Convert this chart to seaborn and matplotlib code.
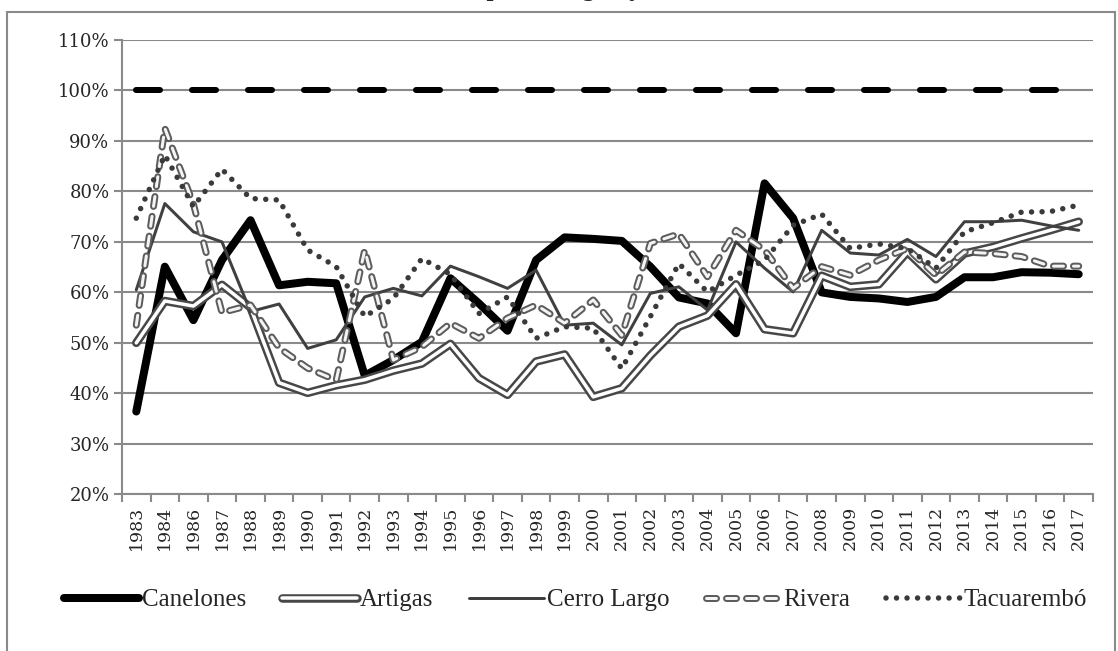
import numpy as np
import pandas as pd
import seaborn as sns
import matplotlib.pyplot as plt
from matplotlib.lines import Line2D
from matplotlib.patches import Rectangle
from matplotlib.ticker import PercentFormatter, FixedLocator

sns.set_style('white')
plt.rcParams['font.family'] = ['DejaVu Serif']
plt.rcParams['lines.scale_dashes'] = False

years = ['1983', '1984', '1986', '1987', '1988', '1989', '1990', '1991', '1992', '1993',
         '1994', '1995', '1996', '1997', '1998', '1999', '2000', '2001', '2002', '2003',
         '2004', '2005', '2006', '2007', '2008', '2009', '2010', '2011', '2012', '2013',
         '2014', '2015', '2016', '2017']

canelones = [36.4, 65.1, 54.5, 66.4, 74.3, 61.4, 62.1, 61.8, 43.5, 46.6, 50.2, 62.8, 57.8, 52.4,
             66.4, 70.9, 70.6, 70.2, 65.1, 59.0, 57.8, 51.9, 81.6, 74.7, 60.0, 59.1, 58.8, 58.1,
             59.1, 63.0, 63.0, 64.0, 63.9, 63.6]
artigas = [50.0, 58.3, 57.3, 61.5, 57.0, 42.1, 40.1, 41.6, 42.7, 44.5, 45.9, 49.8, 43.0, 39.7,
           46.3, 47.7, 39.3, 41.0, 47.5, 53.2, 55.4, 61.6, 52.7, 51.9, 63.3, 61.1, 61.6, 68.0,
           62.6, 67.7, 69.0, 70.7, 72.3, 74.0]
cerro_largo = [60.5, 77.6, 72.0, 70.0, 56.2, 57.7, 48.9, 50.6, 59.1, 60.8, 59.3, 65.2, 63.1, 60.8,
               64.4, 53.5, 53.9, 49.6, 59.8, 61.1, 56.5, 70.0, 64.8, 60.1, 72.3, 67.8, 67.4, 70.5,
               67.1, 74.0, 74.0, 74.3, 73.2, 72.3]
rivera = [53.5, 92.5, 77.5, 56.0, 57.5, 49.0, 45.0, 42.6, 68.4, 46.6, 49.2, 53.9, 50.9, 54.9,
          57.5, 53.9, 58.5, 51.5, 69.7, 71.6, 63.1, 72.3, 68.4, 60.8, 65.1, 63.4, 66.4, 68.7,
          63.4, 68.0, 67.7, 67.1, 65.2, 65.2]
tacuarembo = [74.7, 87.2, 77.0, 84.4, 78.6, 78.3, 68.4, 65.1, 55.2, 58.8, 66.7, 63.6, 55.8, 59.1,
              50.9, 53.2, 52.9, 44.9, 55.2, 65.7, 60.1, 63.4, 66.4, 73.3, 75.5, 68.7, 69.6, 68.7,
              64.8, 72.0, 73.8, 75.9, 76.0, 77.3]
reference = [100, 100, 100, 100, 100, 100, 100, 100, 100, 100, 100, 100, 100, 100, 100, 100, 100,
             100, 100, 100, 100, 100, 100, 100, 100, 100, 100, 100, 100, 100, 100, 100, 100, 100]

df = pd.DataFrame({'year': years, 'Canelones': canelones, 'Artigas': artigas,
                   'Cerro Largo': cerro_largo, 'Rivera': rivera, 'Tacuarembó': tacuarembo,
                   'ref': reference})
df['pos'] = np.arange(len(df))

px = 72 / 100  # pixel -> points

fig = plt.figure(figsize=(11.18, 6.51), dpi=100)
ax = fig.add_axes([122 / 1118, 1 - 494.3 / 651, (1093 - 122) / 1118, (494.3 - 40) / 651])

ax.yaxis.grid(True, color='#8a8a8a', lw=1.5)
ax.set_axisbelow(True)

# 100% reference
ref_style = dict(color='black', lw=6 * px, dash_capstyle='round',
                 linestyle=(0, (24 * px, 32 * px)))
sns.lineplot(data=df, x='pos', y='ref', ax=ax, legend=False, **ref_style)

can_style = dict(color='black', lw=8 * px, solid_capstyle='round')
sns.lineplot(data=df, x='pos', y='Canelones', ax=ax, legend=False, **can_style)

art_out = dict(color='#474747', lw=8.5 * px, solid_capstyle='round')
art_in = dict(color='white', lw=3.5 * px, solid_capstyle='round')
sns.lineplot(data=df, x='pos', y='Artigas', ax=ax, legend=False, **art_out)
sns.lineplot(data=df, x='pos', y='Artigas', ax=ax, legend=False, **art_in)

cl_style = dict(color='#404040', lw=3 * px, solid_capstyle='round')
sns.lineplot(data=df, x='pos', y='Cerro Largo', ax=ax, legend=False, **cl_style)

riv_dash = (0, (10 * px, 10 * px))
riv_out = dict(color='#5c5c5c', lw=7 * px, dash_capstyle='round', linestyle=riv_dash)
riv_in = dict(color='#f4f4f4', lw=3 * px, dash_capstyle='round', linestyle=riv_dash)
sns.lineplot(data=df, x='pos', y='Rivera', ax=ax, legend=False, **riv_out)
sns.lineplot(data=df, x='pos', y='Rivera', ax=ax, legend=False, **riv_in)

tac_style = dict(color='#3a3a3a', lw=5.5 * px, dash_capstyle='round',
                 linestyle=(0, (0.01, 10.5 * px)))
sns.lineplot(data=df, x='pos', y='Tacuarembó', ax=ax, legend=False, **tac_style)

ax.set_xlim(-0.5, len(years) - 0.5)
ax.set_ylim(20, 110)
ax.set_yticks(np.arange(20, 111, 10))
ax.yaxis.set_major_formatter(PercentFormatter(decimals=0))
ax.set_xticks(df['pos'])
ax.set_xticklabels(years, rotation=90)
ax.xaxis.set_minor_locator(FixedLocator(np.arange(-0.5, len(years), 1)))
ax.tick_params(axis='x', which='major', length=0, pad=8, labelsize=12.5)
ax.tick_params(axis='x', which='minor', length=6, width=1.5, color='#8a8a8a', bottom=True)
ax.tick_params(axis='y', length=6, width=1.5, color='#8a8a8a', left=True, pad=3, labelsize=13)
ax.set_xlabel('')
ax.set_ylabel('')
for s in ['top', 'right']:
    ax.spines[s].set_visible(False)
for s in ['left', 'bottom']:
    ax.spines[s].set_color('#8a8a8a')
    ax.spines[s].set_linewidth(1.5)

handles = [
    Line2D([], [], **can_style),
    (Line2D([], [], **art_out), Line2D([], [], **art_in)),
    Line2D([], [], **cl_style),
    (Line2D([], [], **riv_out), Line2D([], [], **riv_in)),
    Line2D([], [], **tac_style),
]
labels = ['Canelones', 'Artigas', 'Cerro Largo', 'Rivera', 'Tacuarembó']
fig.legend(handles, labels, loc='center', bbox_to_anchor=(0.515, 1 - 600 / 651), ncol=5,
           frameon=False, handlelength=3.0, handletextpad=0.1, columnspacing=1.45,
           prop={'family': 'Liberation Serif', 'size': 18})

# outer chart border and the title clipped by the top edge
fig.patches.append(Rectangle((7 / 1118, -0.05), (1115 - 7) / 1118, (651 - 12) / 651 + 0.05,
                             transform=fig.transFigure, fill=False, ec='#8a8a8a', lw=1.5))
fig.text(416 / 1118, 1 + 3 / 651, '(Total percentage by area)', ha='left', va='baseline',
         fontsize=14, fontweight='bold', family='DejaVu Serif')

fig.savefig('out.png', dpi=100)
